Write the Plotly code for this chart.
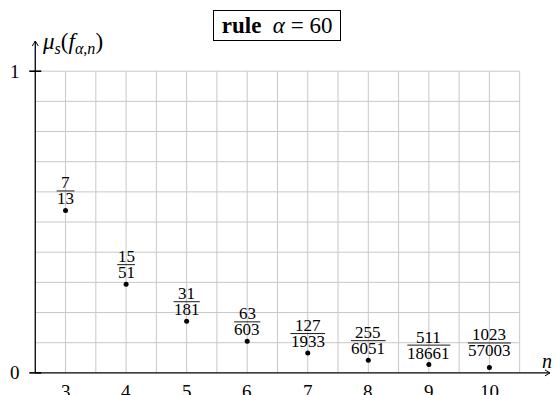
import plotly.graph_objects as go

# Sizes n of the cellular automaton and the measure of f_{alpha,n} as exact fractions
n_values = [3, 4, 5, 6, 7, 8, 9, 10]
numerators = [7, 15, 31, 63, 127, 255, 511, 1023]
denominators = [13, 51, 181, 603, 1933, 6051, 18661, 57003]
rule_alpha = 60
y_ticks = [0, 1]

measure = [p / q for p, q in zip(numerators, denominators)]

SERIF = "Liberation Serif"
GRID = "#c8c8c8"
X_MIN, X_GRID_MAX, X_ARROW = 2.5, 10.5, 11.0
Y_ARROW = 1.1

fig = go.Figure()
fig.add_trace(go.Scatter(
    x=n_values, y=measure, mode="markers",
    marker=dict(color="black", size=5),
    hoverinfo="x+y", showlegend=False,
))

shapes = []
# background grid: half-unit steps along n, tenths along the measure
gx = X_MIN + 0.5
while gx <= X_GRID_MAX + 1e-9:
    shapes.append(dict(type="line", xref="x", yref="y", x0=gx, x1=gx, y0=0, y1=1,
                       line=dict(color=GRID, width=1), layer="below"))
    gx += 0.5
for k in range(1, 11):
    gy = k / 10
    shapes.append(dict(type="line", xref="x", yref="y", x0=X_MIN, x1=X_GRID_MAX, y0=gy, y1=gy,
                       line=dict(color=GRID, width=1), layer="below"))

axis_line = dict(color="black", width=1.3)
# axes with open arrow heads
shapes.append(dict(type="line", xref="x", yref="y", x0=X_MIN, x1=X_ARROW, y0=0, y1=0, line=axis_line))
shapes.append(dict(type="line", xref="x", yref="y", x0=X_MIN, x1=X_MIN, y0=0, y1=Y_ARROW, line=axis_line))
for s in (-1, 1):
    shapes.append(dict(type="line", xref="x", yref="y", xsizemode="pixel", ysizemode="pixel",
                       xanchor=X_ARROW, yanchor=0, x0=-5, x1=0, y0=3 * s, y1=0,
                       line=dict(color="black", width=1)))
    shapes.append(dict(type="line", xref="x", yref="y", xsizemode="pixel", ysizemode="pixel",
                       xanchor=X_MIN, yanchor=Y_ARROW, x0=3 * s, x1=0, y0=-5, y1=0,
                       line=dict(color="black", width=1)))
# ticks crossing the vertical axis
for ty in y_ticks:
    shapes.append(dict(type="line", xref="x", yref="y", xsizemode="pixel", xanchor=X_MIN,
                       x0=-6, x1=6, y0=ty, y1=ty, line=dict(color="black", width=1.6)))

annotations = []
tick_font = dict(family=SERIF, size=19, color="black")
for ty in y_ticks:
    annotations.append(dict(x=X_MIN, y=ty, xref="x", yref="y", text=str(ty), showarrow=False,
                            xanchor="right", xshift=-13, font=tick_font))
for n in n_values:
    annotations.append(dict(x=n, y=0, xref="x", yref="y", text=str(n), showarrow=False,
                            yshift=-19, font=tick_font))

label_lift = [0, 0, 0, 0, 0, 0, 0, 5]
frac_font = dict(family=SERIF, size=17, color="black")
for n, p, q, v, lift in zip(n_values, numerators, denominators, measure, label_lift):
    width = 8.4 * max(len(str(p)), len(str(q))) + 1
    shapes.append(dict(type="line", xref="x", yref="y", xsizemode="pixel", ysizemode="pixel",
                       xanchor=n, yanchor=v, x0=-width / 2, x1=width / 2,
                       y0=19.5 + lift, y1=19.5 + lift, line=dict(color="black", width=0.9)))
    annotations.append(dict(x=n, y=v, xref="x", yref="y", text=str(p), showarrow=False,
                            yshift=27.5 + lift, borderpad=0, font=frac_font))
    annotations.append(dict(x=n, y=v, xref="x", yref="y", text=str(q), showarrow=False,
                            yshift=11.5 + lift, borderpad=0, font=frac_font))

# axis names
annotations.append(dict(x=X_ARROW, y=0, xref="x", yref="y", text="<i>n</i>", showarrow=False,
                        xshift=-3, yshift=12, font=dict(family=SERIF, size=20, color="black")))
annotations.append(dict(x=X_MIN, y=Y_ARROW, xref="x", yref="y", xanchor="left", yanchor="middle",
                        text="<i>μ</i><sub><i>s</i></sub>(<i>f</i><sub><i>α</i>,<i>n</i></sub>)",
                        showarrow=False, xshift=5, yshift=-2,
                        font=dict(family=SERIF, size=23, color="black")))
# boxed title
annotations.append(dict(x=(X_MIN + X_GRID_MAX) / 2, y=1, xref="x", yref="paper", yanchor="middle",
                        yshift=9.5, showarrow=False,
                        text=f"\u00a0<b>rule</b>\u00a0\u00a0<i>α</i>\u00a0=\u00a0{rule_alpha}\u00a0",
                        bordercolor="black", borderwidth=1, borderpad=2, bgcolor="white",
                        font=dict(family=SERIF, size=23, color="black")))

fig.update_layout(
    width=556, height=395,
    margin=dict(l=5, r=0, t=35, b=1),
    paper_bgcolor="white", plot_bgcolor="white",
    shapes=shapes, annotations=annotations,
    xaxis=dict(range=[2.0, 11.1], showgrid=False, zeroline=False, showline=False,
               showticklabels=False, ticks=""),
    yaxis=dict(range=[-0.07, 1.12], showgrid=False, zeroline=False, showline=False,
               showticklabels=False, ticks=""),
)

fig.write_html("out.html")
